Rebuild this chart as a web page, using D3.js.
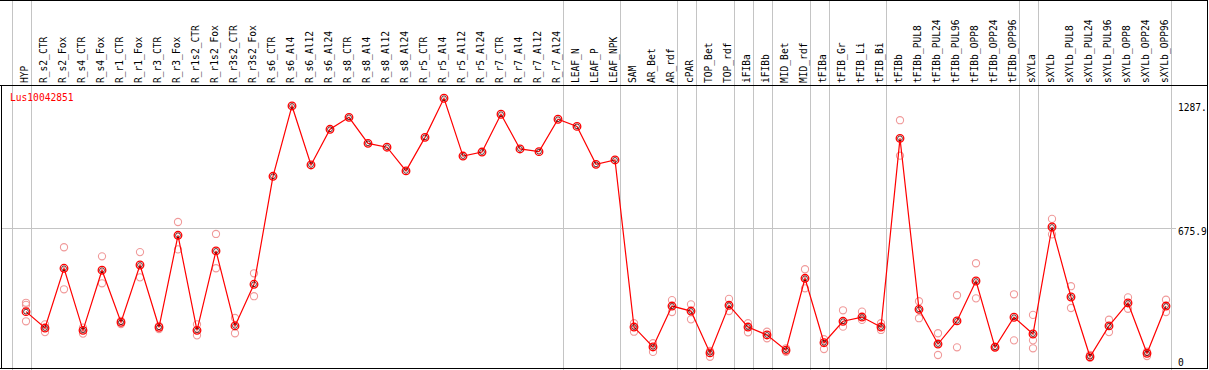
<!DOCTYPE html>
<html>
<head>
<meta charset="utf-8">
<script src="https://cdn.jsdelivr.net/npm/d3@7"></script>
<style>
  body { margin: 0; background: #fff; }
  svg { display: block; }
  text { font-family: "DejaVu Sans Mono", "Liberation Mono", monospace; font-size: 9.6px; }
</style>
</head>
<body>
<div id="chart"><svg></svg></div>
<script>
// gene expression profile, one mean per sample plus the replicates
var gene = "Lus10042851";

var categories = ["HYP","R_s2_CTR","R_s2_Fox","R_s4_CTR","R_s4_Fox","R_r1_CTR","R_r1_Fox","R_r3_CTR","R_r3_Fox",
  "R_r1s2_CTR","R_r1s2_Fox","R_r3s2_CTR","R_r3s2_Fox","R_s6_CTR","R_s6_Al4","R_s6_Al12","R_s6_Al24",
  "R_s8_CTR","R_s8_Al4","R_s8_Al12","R_s8_Al24","R_r5_CTR","R_r5_Al4","R_r5_Al12","R_r5_Al24",
  "R_r7_CTR","R_r7_Al4","R_r7_Al12","R_r7_Al24","LEAF_N","LEAF_P","LEAF_NPK","SAM","AR_Bet","AR_rdf",
  "cPAR","TOP_Bet","TOP_rdf","iFIBa","iFIBb","MID_Bet","MID_rdf","tFIBa","tFIB_Gr","tFIB_Li","tFIB_Bi",
  "tFIBb","tFIBb_PUL8","tFIBb_PUL24","tFIBb_PUL96","tFIBb_OPP8","tFIBb_OPP24","tFIBb_OPP96",
  "sXYLa","sXYLb","sXYLb_PUL8","sXYLb_PUL24","sXYLb_PUL96","sXYLb_OPP8","sXYLb_OPP24","sXYLb_OPP96"];

var means = [242,157,467,145,457,187,484,161,638,145,557,168,384,944,1309,1003,1188,1250,1115,1095,972,
  1146,1349,1049,1070,1266,1086,1072,1240,1203,1006,1029,162,59,271,245,28,275,162,121,42,415,81,192,214,
  162,1141,254,74,194,401,57,213,126,681,318,8,168,287,26,271];

var replicates = [[288,277,192],[176,136],[576,358],[159,128],[529,389],[194,178],[551,420],[168,152],
  [707,565],[176,119],[645,467],[209,130],[441,322],[],[],[],[],[],[],[],[],[],[],[],[],[],[],[],[],[],[],[],
  [182,138],[78,33],[302,240],[280,202],[38,8],[308,245],[182,135],[138,104],[52,34],[462,363],[99,48],
  [249,164],[242,199],[182,147],[1235,1051],[296,208],[130,17],[327,57],[493,311],[60],[332,93],
  [225,93,52],[723,643],[374,261],[17,2],[200,136],[316,257],[34,12],[304,240]];

// last sample of each group, a grey separator is drawn after it
var groupEnds = ["HYP","R_r7_Al24","LEAF_NPK","AR_rdf","cPAR","TOP_rdf","iFIBa","iFIBb","MID_rdf",
  "tFIBa","tFIB_Bi","tFIBb_OPP96","sXYLa","sXYLb_OPP96"];

var yMax = 1351.8;
var yTicks = [0, 675.9, 1287];
var yTickLabels = ["0", "675.9", "1287."];

var width = 1209, height = 370;
var svg = d3.select("#chart svg").attr("width", width).attr("height", height);

var x = d3.scalePoint().domain(categories).range([26, 1166]);
var y = d3.scaleLinear().domain([0, yMax]).range([358.3, 97.7]);

var headerBottom = 85.5;

// vertical separators, through header and plot
var seps = [x(categories[0]) - x.step() + 4.5].concat(groupEnds.map(function(c) { return x(c) + 4.5; }));
svg.append("g").selectAll("line")
  .data(seps)
  .enter().append("line")
    .attr("x1", function(d) { return Math.round(d) + 0.5; })
    .attr("x2", function(d) { return Math.round(d) + 0.5; })
    .attr("y1", 0).attr("y2", height)
    .style("stroke", "#c4c4c4");

// horizontal grid at the middle tick
svg.append("line")
  .attr("x1", 1).attr("x2", 1176)
  .attr("y1", Math.round(y(675.9)) + 0.5).attr("y2", Math.round(y(675.9)) + 0.5)
  .style("stroke", "#c4c4c4");

// frame
svg.append("line").attr("x1", 0).attr("x2", 1208).attr("y1", 0.5).attr("y2", 0.5).style("stroke", "#000");
svg.append("line").attr("x1", 0).attr("x2", 1208).attr("y1", headerBottom).attr("y2", headerBottom).style("stroke", "#000");
svg.append("line").attr("x1", 0).attr("x2", 1208).attr("y1", 368.5).attr("y2", 368.5).style("stroke", "#000");
svg.append("line").attr("x1", 1.5).attr("x2", 1.5).attr("y1", headerBottom).attr("y2", 369).style("stroke", "#000");
svg.append("line").attr("x1", 1207.5).attr("x2", 1207.5).attr("y1", 0).attr("y2", 369).style("stroke", "#000");

// sample labels, vertical
svg.append("g").selectAll("text")
  .data(categories)
  .enter().append("text")
    .attr("transform", function(d) { return "translate(" + (x(d) + 1.5) + ",83) rotate(-90)"; })
    .attr("text-anchor", "start")
    .style("fill", "#000")
    .text(function(d) { return d; });

// y labels on the right
svg.append("g").selectAll("text")
  .data(yTicks)
  .enter().append("text")
    .attr("x", 1178)
    .attr("y", function(d, i) { return y(d) + (i == yTicks.length - 1 ? 0.5 : 7.3); })
    .style("fill", "#000")
    .text(function(d, i) { return yTickLabels[i]; });

svg.append("text")
  .attr("x", 10).attr("y", 101)
  .style("fill", "#ff0000")
  .text(gene);

// replicate circles
var reps = [];
replicates.forEach(function(r, i) {
  r.forEach(function(v) { reps.push({ cat: categories[i], v: v }); });
});
svg.append("g").selectAll("circle")
  .data(reps)
  .enter().append("circle")
    .attr("cx", function(d) { return x(d.cat); })
    .attr("cy", function(d) { return y(d.v); })
    .attr("r", 3.6)
    .style("fill", "none")
    .style("stroke", "#f09a9a")
    .style("stroke-width", 1.1);

// mean line
var line = d3.line()
  .x(function(d, i) { return x(categories[i]); })
  .y(function(d) { return y(d); });

svg.append("path")
  .datum(means)
  .attr("d", line)
  .style("fill", "none")
  .style("stroke", "#ff0000")
  .style("stroke-width", 1.2);

// mean markers: red ring with a dark inner ring
var marks = svg.append("g").selectAll("g")
  .data(means)
  .enter().append("g")
    .attr("transform", function(d, i) { return "translate(" + x(categories[i]) + "," + y(d) + ")"; });

marks.append("circle")
  .attr("r", 3.8)
  .style("fill", "none")
  .style("stroke", "#ff0000")
  .style("stroke-width", 1.3);

marks.append("circle")
  .attr("r", 2.4)
  .style("fill", "none")
  .style("stroke", "#400000")
  .style("stroke-width", 0.8);
</script>
</body>
</html>
